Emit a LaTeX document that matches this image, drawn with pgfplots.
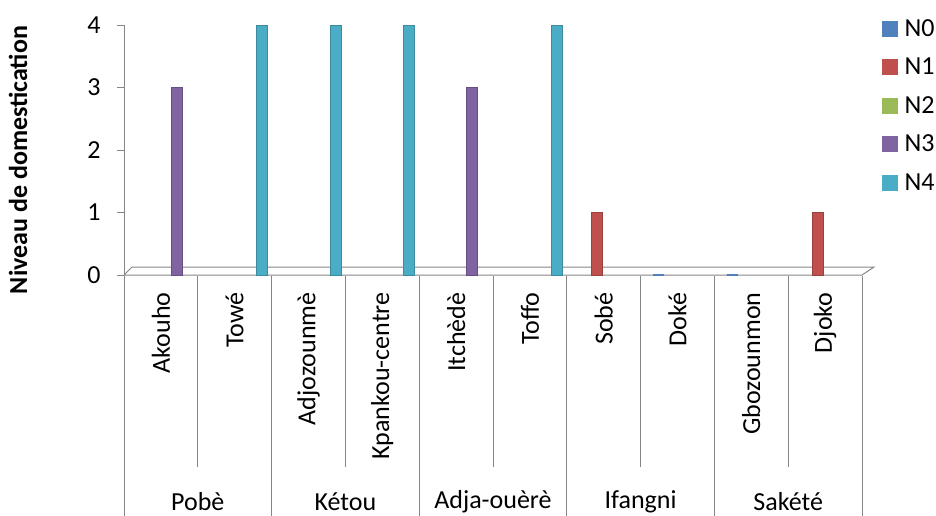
\documentclass[border=0pt]{standalone}
\usepackage{pgfplots}
\pgfplotsset{compat=1.18}
\usepackage{fontspec}
\setmainfont{Carlito}
\definecolor{cN0}{HTML}{4F81BD}
\definecolor{cN1}{HTML}{C0504D}
\definecolor{cN2}{HTML}{9BBB59}
\definecolor{cN3}{HTML}{8064A2}
\definecolor{cN4}{HTML}{4BACC6}
\definecolor{axgray}{HTML}{868686}
\newcommand{\bigfont}{\fontsize{26}{30}\selectfont}
\begin{document}
\begin{tikzpicture}[x=1pt,y=1pt]
\begin{axis}[
  at={(124pt,-275pt)}, anchor=south west,
  scale only axis, width=738pt, height=250pt,
  xmin=-0.5, xmax=9.5, ymin=0, ymax=4,
  clip=false,
  separate axis lines,
  axis x line*=bottom, axis y line*=left,
  x axis line style={draw=none},
  y axis line style={draw=axgray, line width=1pt, -},
  xtick={0,...,9},
  xticklabels={Akouho,Towé,Adjozounmè,Kpankou-centre,Itchèdè,Toffo,Sobé,Doké,Gbozounmon,Djoko},
  xtick style={draw=none},
  xticklabel style={font=\bigfont, yshift=-7pt, rotate=90, anchor=east},
  ytick={0,...,4},
  tick align=outside,
  major tick length=7pt,
  ytick style={draw=axgray, line width=1pt},
  yticklabel style={font=\bigfont, xshift=-13pt},
  /pgf/number format/assume math mode=true,
  ylabel={Niveau de domestication},
  ylabel style={font=\bigfont\bfseries, at={(axis description cs:-0.1436,0.46)}, anchor=center},
  legend style={at={(axis description cs:1,1)}, anchor=north west, xshift=17pt, yshift=9pt,
    draw=none, fill=none, font=\bigfont, row sep=18.5pt,
    nodes={inner sep=2pt, text height=16pt, text depth=0pt},
    /tikz/every odd column/.append style={column sep=5pt}},
  legend cell align=left,
]
% floor
\draw[axgray, line width=1pt, fill=white] (axis cs:-0.5,0) -- ++(8pt,8pt) -- ([xshift=12pt,yshift=8pt]axis cs:9.5,0) -- (axis cs:9.5,0) -- cycle;
% bars
\addplot[forget plot, ybar, bar width=11pt, bar shift=-19pt, fill=cN0, draw=cN0, line width=1.5pt]
  coordinates {(7,0) (8,0)};
\addplot[forget plot, ybar, bar width=11pt, bar shift=-7pt, fill=cN1, draw=cN1!80!black, line width=0.8pt]
  coordinates {(6,1) (9,1)};
\addplot[forget plot, ybar, bar width=11pt, bar shift=16pt, fill=cN3, draw=cN3!80!black, line width=0.8pt]
  coordinates {(0,3) (4,3)};
\addplot[forget plot, ybar, bar width=11pt, bar shift=27pt, fill=cN4, draw=cN4!80!black, line width=0.8pt]
  coordinates {(1,4) (2,4) (3,4) (5,4)};
% legend
\addlegendimage{legend image code/.code={\fill[cN0] (0pt,-7.5pt) rectangle (15pt,7.5pt);}}
\addlegendentry{N0}
\addlegendimage{legend image code/.code={\fill[cN1] (0pt,-7.5pt) rectangle (15pt,7.5pt);}}
\addlegendentry{N1}
\addlegendimage{legend image code/.code={\fill[cN2] (0pt,-7.5pt) rectangle (15pt,7.5pt);}}
\addlegendentry{N2}
\addlegendimage{legend image code/.code={\fill[cN3] (0pt,-7.5pt) rectangle (15pt,7.5pt);}}
\addlegendentry{N3}
\addlegendimage{legend image code/.code={\fill[cN4] (0pt,-7.5pt) rectangle (15pt,7.5pt);}}
\addlegendentry{N4}
% category separators (short: within a commune)
\draw[axgray, line width=1pt] ([yshift=-1pt]axis cs:0.5,0) -- ++(0pt,-191pt);
\draw[axgray, line width=1pt] ([yshift=-1pt]axis cs:2.5,0) -- ++(0pt,-191pt);
\draw[axgray, line width=1pt] ([yshift=-1pt]axis cs:4.5,0) -- ++(0pt,-191pt);
\draw[axgray, line width=1pt] ([yshift=-1pt]axis cs:6.5,0) -- ++(0pt,-191pt);
\draw[axgray, line width=1pt] ([yshift=-1pt]axis cs:8.5,0) -- ++(0pt,-191pt);
% long: between communes
\draw[axgray, line width=1pt] ([yshift=-1pt]axis cs:-0.5,0) -- ++(0pt,-241pt);
\draw[axgray, line width=1pt] ([yshift=-1pt]axis cs:1.5,0) -- ++(0pt,-241pt);
\draw[axgray, line width=1pt] ([yshift=-1pt]axis cs:3.5,0) -- ++(0pt,-241pt);
\draw[axgray, line width=1pt] ([yshift=-1pt]axis cs:5.5,0) -- ++(0pt,-241pt);
\draw[axgray, line width=1pt] ([yshift=-1pt]axis cs:7.5,0) -- ++(0pt,-241pt);
\draw[axgray, line width=1pt] ([yshift=-1pt]axis cs:9.5,0) -- ++(0pt,-241pt);
% commune labels
\node[font=\bigfont] at ([yshift=-227pt]axis cs:0.5,0) {Pobè};
\node[font=\bigfont] at ([yshift=-227pt]axis cs:2.5,0) {Kétou};
\node[font=\bigfont] at ([yshift=-227pt]axis cs:4.5,0) {Adja-ouèrè};
\node[font=\bigfont] at ([yshift=-227pt]axis cs:6.5,0) {Ifangni};
\node[font=\bigfont] at ([yshift=-227pt]axis cs:8.5,0) {Sakété};
\end{axis}
\pgfresetboundingbox
\useasboundingbox (0pt,0pt) rectangle (936pt,-516pt);
\end{tikzpicture}
\end{document}
